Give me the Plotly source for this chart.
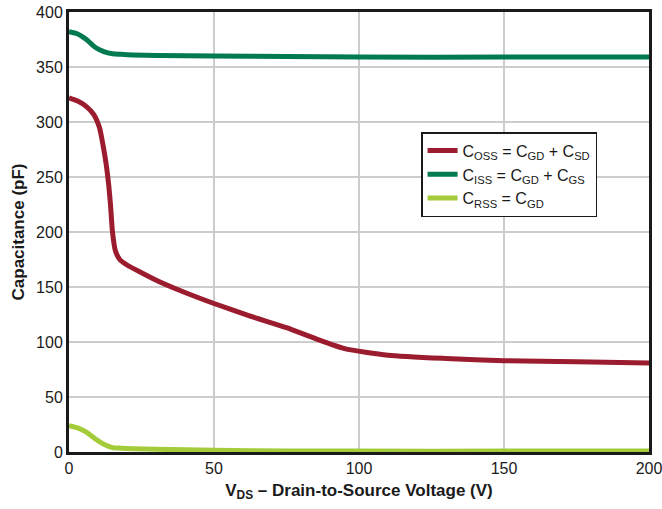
import plotly.graph_objects as go

vds_oss = [0, 3, 6, 8.5, 10.5, 11.8, 12.8, 13.6, 14.3, 15, 16, 17.5, 20, 25, 31, 40, 50, 62, 75, 85, 95, 110, 130, 150, 175, 200]
c_oss = [322, 319, 314, 307, 295, 278, 262, 245, 225, 200, 183, 175, 170, 163, 155, 145, 135, 124, 113, 103, 94, 88, 85, 83, 82, 81]

vds_iss = [0, 3, 6, 9, 12, 15, 18, 22, 30, 50, 75, 100, 150, 200]
c_iss = [382, 380, 375, 368, 364, 362, 361.5, 361, 360.5, 360, 359.5, 359, 359, 359]

vds_rss = [0, 3, 6, 9, 12, 15, 18, 22, 30, 50, 75, 100, 150, 200]
c_rss = [24, 22, 18, 12, 7, 4, 3.5, 3, 2.5, 1.5, 1, 0.8, 0.8, 0.8]

x_ticks = [0, 50, 100, 150, 200]
y_ticks = [0, 50, 100, 150, 200, 250, 300, 350, 400]

FONT = "Liberation Sans, Arial, sans-serif"

fig = go.Figure()
fig.add_trace(go.Scatter(x=vds_oss, y=c_oss, mode="lines", line=dict(color="#9B1C2E", width=5, shape="spline", smoothing=0.6),
                         name="C<sub>OSS</sub> = C<sub>GD</sub> + C<sub>SD</sub>"))
fig.add_trace(go.Scatter(x=vds_iss, y=c_iss, mode="lines", line=dict(color="#007A4E", width=5, shape="spline", smoothing=0.6),
                         name="C<sub>ISS</sub> = C<sub>GD</sub> + C<sub>GS</sub>"))
fig.add_trace(go.Scatter(x=vds_rss, y=c_rss, mode="lines", line=dict(color="#A4CC3A", width=5, shape="spline", smoothing=0.6),
                         name="C<sub>RSS</sub> = C<sub>GD</sub>"))

fig.update_layout(
    width=662, height=509,
    margin=dict(l=69, r=13, t=12, b=57),
    paper_bgcolor="white", plot_bgcolor="white",
    font=dict(family=FONT, size=16, color="#1a1a1a"),
    legend=dict(x=0.607, y=0.727, xanchor="left", yanchor="top",
                bordercolor="#1a1a1a", borderwidth=1.5, bgcolor="white",
                font=dict(family=FONT, size=16), itemwidth=30, tracegroupgap=0),
)
fig.update_xaxes(range=[0, 200], tickvals=x_ticks, showgrid=True, gridcolor="#cccccc", gridwidth=1.5,
                 showline=True, linecolor="#1a1a1a", linewidth=3, mirror=True, ticks="", zeroline=False,
                 automargin=False, ticklabeloverflow="allow",
                 title=dict(text="<b>V<sub>DS</sub> – Drain-to-Source Voltage (V)</b>", font=dict(size=17), standoff=8))
fig.update_yaxes(range=[0, 400], tickvals=y_ticks, showgrid=True, gridcolor="#cccccc", gridwidth=1.5,
                 showline=True, linecolor="#1a1a1a", linewidth=3, mirror=True, ticks="", zeroline=False,
                 automargin=False, ticklabeloverflow="allow",
                 title=dict(text="<b>Capacitance (pF)</b>", font=dict(size=17), standoff=8))

fig.write_html("out.html", config={"displayModeBar": False},
               post_script="document.body.style.margin='0px';")
